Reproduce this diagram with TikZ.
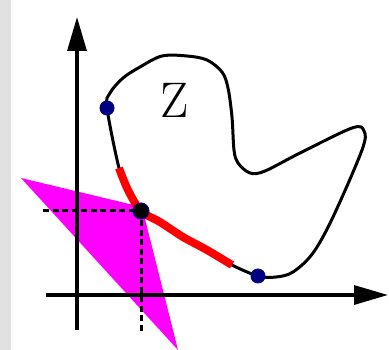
\documentclass[tikz,border=0pt]{standalone}
\usepackage{fontspec}
\usetikzlibrary{arrows.meta}
\definecolor{bandgray}{RGB}{225,225,225}
\definecolor{dotblue}{RGB}{0,0,130}
\definecolor{conemag}{RGB}{255,0,255}
\begin{document}
\begin{tikzpicture}[
    x=1pt, y=-1pt,
    axis/.style={line width=3.3pt, -{Triangle[length=34pt,width=19pt]}},
    guide/.style={line width=3pt, dash pattern=on 6pt off 3.5pt},
    outline/.style={line width=3pt, line join=round},
    arc/.style={red, line width=8pt},
    spot/.style={fill=dotblue},
  ]
  \useasboundingbox (0,0) rectangle (389,350);
  \fill[bandgray] (0,0) rectangle (11,350);

  % Cone
  \fill[conemag] (21,178) -- (142,207) -- (178,350) -- cycle;

  % Axes
  \coordinate (O) at (77,295);
  \draw[axis] (46,295) -- (388,295);
  \draw[axis] (77,330) -- (77,17);

  % Point and its projections
  \coordinate (P) at (141,211);
  \coordinate (Px) at (43,211);
  \coordinate (Py) at (141,332);
  \draw[guide] (Px) -- (P);
  \draw[guide] (P) -- (Py);

  % Set Z
  \draw[outline] plot[smooth cycle, tension=0.55] coordinates {
    (107,108) (110,93) (123,78) (140,67) (162,56) (187,56) (207,60)
    (222,72) (228,88) (232,117) (234,150) (238,163) (250,173) (265,171)
    (300,153) (352,128) (364,131) (362,150) (333,217) (313,253)
    (293,272) (276,277) (258,276) (232,265) (207,250) (183,237)
    (160,222) (141,211) (128,190) (119,168)};
  \draw[arc] plot[smooth, tension=0.55] coordinates {
    (232,265) (207,250) (183,237) (160,222) (141,211) (128,190) (119,168)};

  % Points
  \coordinate (A) at (107,108);
  \coordinate (B) at (258,276);
  \fill[spot] (A) circle (7.5);
  \fill[spot] (B) circle (7.5);
  \fill[black] (P) circle (8);
  \draw[dotblue, line width=1pt] (P) circle (8);

  \node[font=\fontsize{50}{50}\selectfont] (Z) at (175,100) {Z};
\end{tikzpicture}
\end{document}
